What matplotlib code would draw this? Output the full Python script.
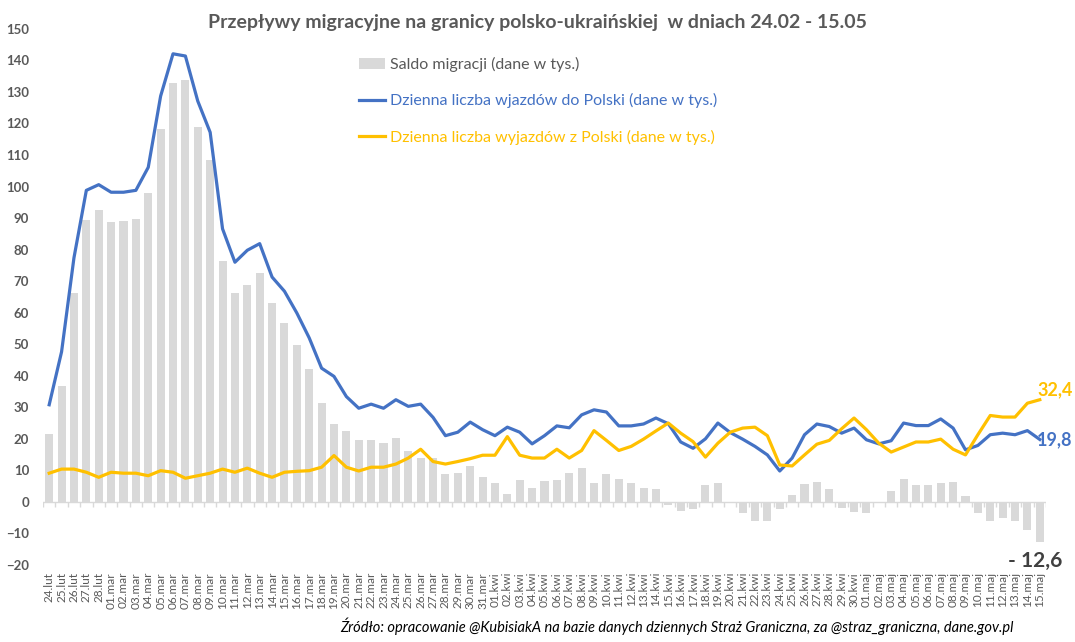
import matplotlib
matplotlib.use("Agg")
import matplotlib.pyplot as plt
import numpy as np

plt.rcParams["font.family"] = ["Lato", "DejaVu Sans"]

dates = (
    [f"{d:02d}.lut" for d in range(24, 29)]
    + [f"{d:02d}.mar" for d in range(1, 32)]
    + [f"{d:02d}.kwi" for d in range(1, 31)]
    + [f"{d:02d}.maj" for d in range(1, 16)]
)

# saldo migracji (tys.)
saldo = [
    21.6, 36.8, 66.3, 89.3, 92.7,
    88.7, 89.0, 89.8, 97.8, 118.4, 132.7, 133.7, 118.8, 108.3, 76.5,
    66.3, 68.9, 72.7, 63.2, 56.8, 49.8, 42.2, 31.4, 24.8, 22.5,
    19.7, 19.7, 18.7, 20.3, 16.2, 14.0, 14.0, 8.9, 9.2, 11.4, 7.9,
    6.0, 2.5, 7.0, 4.4, 6.7, 7.0, 9.2, 10.8, 6.0, 8.9,
    7.3, 6.0, 4.4, 4.1, -1.0, -2.8, -2.2, 5.4, 6.0, 0.0,
    -3.5, -6.2, -6.2, -2.2, 2.3, 5.7, 6.3, 4.1, -1.8, -3.3,
    -3.6, 0.0, 3.6, 7.4, 5.5, 5.5, 6.0, 6.3, 1.9, -3.6,
    -6.1, -5.1, -6.0, -8.8, -12.6,
]

# wjazdy do Polski (tys.)
wjazdy = [
    30.8, 47.6, 77.4, 98.8, 100.6,
    98.2, 98.2, 98.8, 106.1, 128.7, 142.1, 141.4, 127.1, 117.2, 86.6,
    76.0, 79.8, 81.9, 71.3, 66.8, 59.9, 52.0, 42.4, 39.8, 33.4,
    29.7, 31.0, 29.7, 32.4, 30.3, 31.0, 26.8, 21.0, 22.1, 25.3, 22.9,
    21.0, 23.7, 22.1, 18.4, 21.0, 24.1, 23.5, 27.6, 29.2, 28.5,
    24.1, 24.1, 24.7, 26.6, 24.8, 19.0, 17.0, 20.0, 25.0, 22.0,
    19.9, 17.6, 14.9, 9.8, 13.9, 21.3, 24.7, 23.9, 21.8, 23.4,
    19.7, 18.4, 19.4, 25.0, 24.2, 24.2, 26.3, 23.4, 16.5, 17.9,
    21.3, 21.8, 21.3, 22.6, 19.8,
]

# wyjazdy z Polski (tys.)
wyjazdy = [
    9.1, 10.4, 10.4, 9.4, 7.8,
    9.4, 9.1, 9.1, 8.3, 9.9, 9.4, 7.5, 8.3, 9.1, 10.4,
    9.4, 10.7, 9.1, 7.8, 9.4, 9.7, 9.9, 11.0, 14.7, 11.0,
    9.8, 11.0, 11.0, 12.0, 13.9, 16.7, 12.8, 12.0, 12.8, 13.7, 14.8,
    14.8, 20.7, 14.8, 13.9, 13.9, 16.7, 13.9, 16.3, 22.6, 19.5,
    16.3, 17.6, 19.9, 22.5, 25.0, 21.8, 19.1, 14.2, 18.6, 22.1,
    23.4, 23.7, 21.0, 11.7, 11.4, 14.9, 18.3, 19.5, 23.2, 26.6,
    22.9, 18.6, 15.8, 17.4, 19.0, 19.0, 19.9, 16.7, 14.9, 21.3,
    27.4, 26.9, 26.9, 31.3, 32.4,
]

GREY_TXT = "#595959"
BLUE = "#4472C4"
YELLOW = "#FFC000"
BAR = "#D9D9D9"

x = np.arange(len(dates))

fig = plt.figure(figsize=(10.75, 6.42), dpi=100)
ax = fig.add_axes([0.04, 0.12, 0.933, 0.835])

bars = ax.bar(x, saldo, width=0.65, color=BAR, label="Saldo migracji (dane w tys.)", zorder=1)
l_in, = ax.plot(x, wjazdy, color=BLUE, lw=2.3, label="Dzienna liczba wjazdów do Polski (dane w tys.)",
                zorder=3, solid_joinstyle="round")
l_out, = ax.plot(x, wyjazdy, color=YELLOW, lw=2.3, label="Dzienna liczba wyjazdów z Polski (dane w tys.)",
                 zorder=3, solid_joinstyle="round")

# category axis at zero with small tick marks between days
ax.axhline(0, color=BAR, lw=1, zorder=2)
ax.vlines(np.arange(-0.5, len(dates)), -1.6, 0, color=BAR, lw=1, zorder=2)

ax.set_xlim(-0.5, len(dates) - 0.5)
ax.set_ylim(-20, 150)
ax.set_yticks(range(-20, 151, 10))
ax.tick_params(axis="y", length=0, pad=10, labelsize=9.5, labelcolor=GREY_TXT)
for lab in ax.get_yticklabels():
    lab.set_fontweight("bold")
ax.set_xticks(x)
ax.set_xticklabels(dates, rotation=90, fontsize=8.5, color=GREY_TXT)
ax.tick_params(axis="x", length=0, pad=5)
for s in ax.spines.values():
    s.set_visible(False)

leg = ax.legend([bars, l_in, l_out], [h.get_label() for h in (bars, l_in, l_out)],
                loc="upper left", bbox_to_anchor=(0.301, 0.975), frameon=False,
                fontsize=11.5, labelspacing=1.35, handlelength=1.6, handletextpad=0.3)
for txt, col in zip(leg.get_texts(), [GREY_TXT, BLUE, YELLOW]):
    txt.set_color(col)

ax.annotate("32,4", (x[-1], wyjazdy[-1]), xytext=(-2, 7), textcoords="offset points",
            color=YELLOW, fontsize=13, fontweight="bold", ha="left", va="center")
ax.annotate("19,8", (x[-1], wjazdy[-1]), xytext=(-2, 0), textcoords="offset points",
            color=BLUE, fontsize=13, fontweight="bold", ha="left", va="center")
ax.annotate("- 12,6", (x[-1], saldo[-1]), xytext=(16, -14), textcoords="offset points",
            color="#404040", fontsize=15, fontweight="bold", ha="right", va="center")

fig.text(0.5, 0.965, "Przepływy migracyjne na granicy polsko-ukraińskiej  w dniach 24.02 - 15.05",
         ha="center", va="center", fontsize=14, fontweight="bold", color=GREY_TXT)
fig.text(0.943, 0.024,
         "Źródło: opracowanie @KubisiakA na bazie danych dziennych Straż Graniczna, za @straz_graniczna, dane.gov.pl",
         ha="right", va="center", fontsize=10.5, style="italic", color="black")

fig.savefig("out.png", dpi=100)
